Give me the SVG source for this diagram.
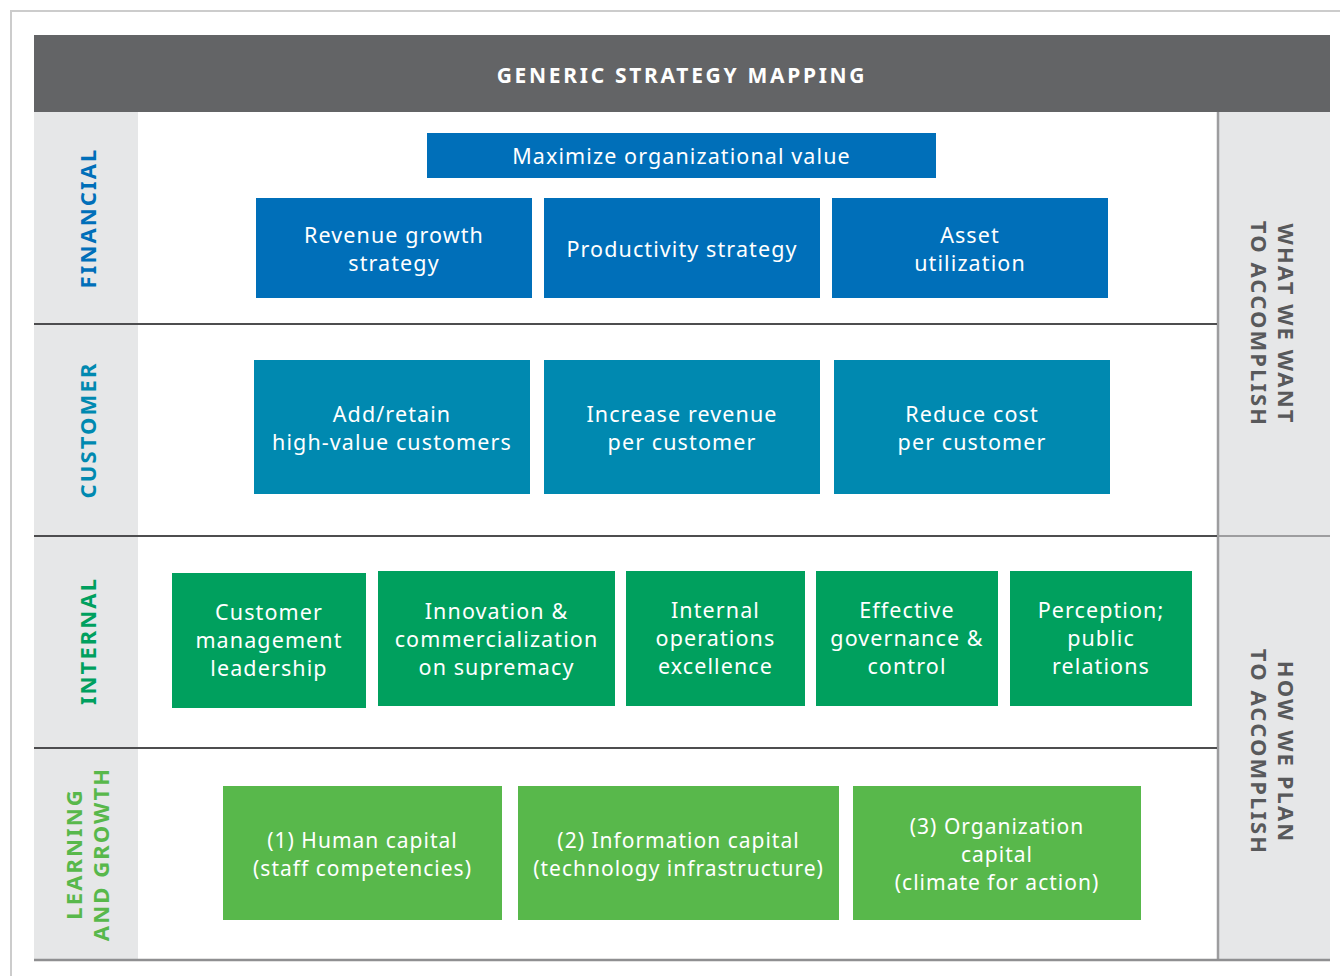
<svg xmlns="http://www.w3.org/2000/svg" width="1340" height="976" viewBox="0 0 1340 976">
<style>
.bt{font-family:"Noto Sans","Open Sans",sans-serif;font-size:21.5px;fill:#ffffff;text-anchor:middle;letter-spacing:1.1px}
.lt{font-family:"Noto Sans","Open Sans",sans-serif;font-size:21px;fill:#ffffff;text-anchor:middle;letter-spacing:1px}
.side{font-family:"Noto Sans","DejaVu Sans",sans-serif;font-size:22px;font-weight:bold;text-anchor:middle;letter-spacing:2.1px}
.rside{font-family:"Noto Sans","DejaVu Sans",sans-serif;font-size:22px;font-weight:bold;text-anchor:middle;letter-spacing:2.1px;fill:#58595b}
.fin{fill:#006fb9}.cus{fill:#0089b0}.int{fill:#00a05e}.lrn{fill:#58b84b}
.div{stroke:#4d4d4f;stroke-width:2}
</style>
<rect x="0" y="0" width="1340" height="976" fill="#ffffff"/>
<g id="frame">
<path d="M11 976 V11 H1340" fill="none" stroke="#cccccc" stroke-width="2"/>
<rect x="34" y="35" width="1296" height="77" fill="#636466"/>
<text x="682" y="83" font-family="Noto Sans,DejaVu Sans,sans-serif" font-size="21" font-weight="bold" fill="#ffffff" text-anchor="middle" letter-spacing="2.7">GENERIC STRATEGY MAPPING</text>
<rect x="34" y="112" width="104" height="848" fill="#e6e7e8"/>
<rect x="1218" y="112" width="112" height="848" fill="#e6e7e8"/>
<line x1="1218" y1="112" x2="1218" y2="960" stroke="#9d9d9f" stroke-width="2.5"/>
<line x1="1218" y1="536" x2="1330" y2="536" stroke="#9d9d9f" stroke-width="2"/>
<line x1="34" y1="324" x2="1217" y2="324" class="div"/>
<line x1="34" y1="536" x2="1217" y2="536" class="div"/>
<line x1="34" y1="748" x2="1217" y2="748" class="div"/>
<line x1="34" y1="960" x2="1330" y2="960" stroke="#8f8f91" stroke-width="2.5"/>
</g>
<g id="labels">
<text class="side fin" transform="translate(96,218) rotate(-90)">FINANCIAL</text>
<text class="side cus" transform="translate(96,430) rotate(-90)">CUSTOMER</text>
<text class="side int" transform="translate(96,641) rotate(-90)">INTERNAL</text>
<text class="side lrn" transform="translate(82,854) rotate(-90)"><tspan x="0" y="0">LEARNING</tspan><tspan x="0" y="27">AND GROWTH</tspan></text>
<text class="rside" transform="translate(1278,324) rotate(90)"><tspan x="0" y="0">WHAT WE WANT</tspan><tspan x="0" y="27">TO ACCOMPLISH</tspan></text>
<text class="rside" transform="translate(1278,752) rotate(90)"><tspan x="0" y="0">HOW WE PLAN</tspan><tspan x="0" y="27">TO ACCOMPLISH</tspan></text>
</g>
<g id="financial">
<g id="n-maximize"><rect x="427" y="133" width="509" height="45" fill="#006fb9"/><text class="bt" x="681.5" y="164">Maximize organizational value</text></g>
<g id="n-revenue"><rect x="256" y="198" width="276" height="100" fill="#006fb9"/><text class="bt" x="394" y="243">Revenue growth</text><text class="bt" x="394" y="271">strategy</text></g>
<g id="n-productivity"><rect x="544" y="198" width="276" height="100" fill="#006fb9"/><text class="bt" x="682" y="257">Productivity strategy</text></g>
<g id="n-asset"><rect x="832" y="198" width="276" height="100" fill="#006fb9"/><text class="bt" x="970" y="243">Asset</text><text class="bt" x="970" y="271">utilization</text></g>
</g>
<g id="customer">
<g id="n-addretain"><rect x="254" y="360" width="276" height="134" fill="#0089b0"/><text class="bt" x="392" y="422">Add/retain</text><text class="bt" x="392" y="450">high-value customers</text></g>
<g id="n-increase"><rect x="544" y="360" width="276" height="134" fill="#0089b0"/><text class="bt" x="682" y="422">Increase revenue</text><text class="bt" x="682" y="450">per customer</text></g>
<g id="n-reduce"><rect x="834" y="360" width="276" height="134" fill="#0089b0"/><text class="bt" x="972" y="422">Reduce cost</text><text class="bt" x="972" y="450">per customer</text></g>
</g>
<g id="internal">
<g id="n-custmgmt"><rect x="172" y="573" width="194" height="135" fill="#00a05e"/><text class="bt" x="269" y="620">Customer</text><text class="bt" x="269" y="648">management</text><text class="bt" x="269" y="676">leadership</text></g>
<g id="n-innovation"><rect x="378" y="571" width="237" height="135" fill="#00a05e"/><text class="bt" x="496.5" y="619">Innovation &amp;</text><text class="bt" x="496.5" y="647">commercialization</text><text class="bt" x="496.5" y="675">on supremacy</text></g>
<g id="n-intops"><rect x="626" y="571" width="179" height="135" fill="#00a05e"/><text class="bt" x="715.5" y="618">Internal</text><text class="bt" x="715.5" y="646">operations</text><text class="bt" x="715.5" y="674">excellence</text></g>
<g id="n-governance"><rect x="816" y="571" width="182" height="135" fill="#00a05e"/><text class="bt" x="907" y="618">Effective</text><text class="bt" x="907" y="646">governance &amp;</text><text class="bt" x="907" y="674">control</text></g>
<g id="n-perception"><rect x="1010" y="571" width="182" height="135" fill="#00a05e"/><text class="bt" x="1101" y="618">Perception;</text><text class="bt" x="1101" y="646">public</text><text class="bt" x="1101" y="674">relations</text></g>
</g>
<g id="learning">
<g id="n-human"><rect x="223" y="786" width="279" height="134" fill="#58b84b"/><text class="lt" x="362.5" y="848">(1) Human capital</text><text class="lt" x="362.5" y="876">(staff competencies)</text></g>
<g id="n-information"><rect x="518" y="786" width="321" height="134" fill="#58b84b"/><text class="lt" x="678.5" y="848">(2) Information capital</text><text class="lt" x="678.5" y="876">(technology infrastructure)</text></g>
<g id="n-organization"><rect x="853" y="786" width="288" height="134" fill="#58b84b"/><text class="lt" x="997" y="834">(3) Organization</text><text class="lt" x="997" y="862">capital</text><text class="lt" x="997" y="890">(climate for action)</text></g>
</g>
<g id="connectors"></g>
</svg>
